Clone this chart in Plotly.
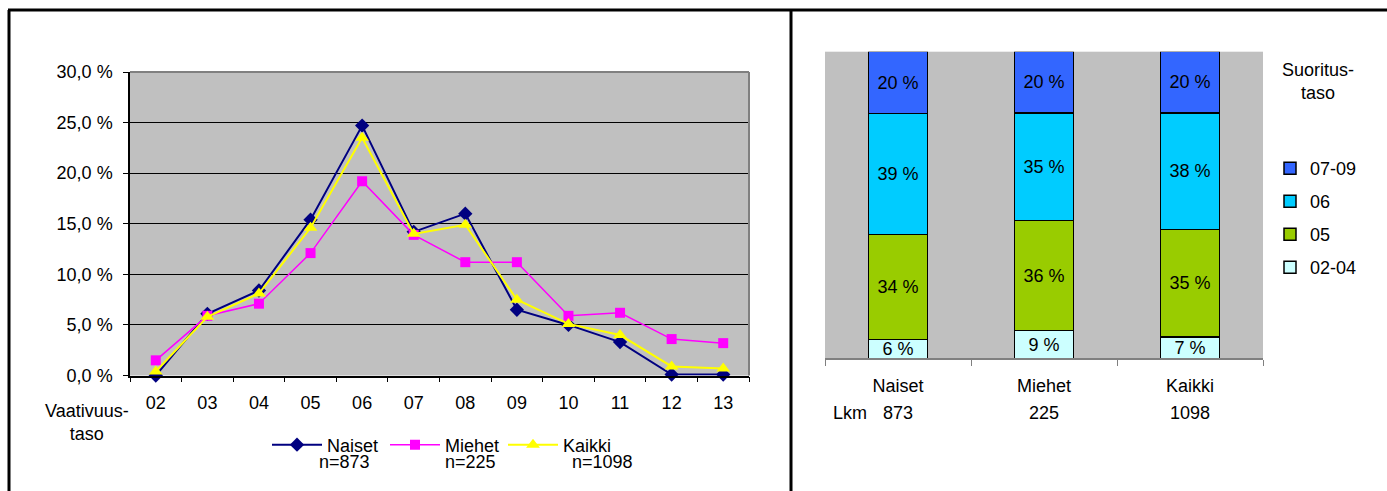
import plotly.graph_objects as go

# ---- Left chart data ----
levels = ["02", "03", "04", "05", "06", "07", "08", "09", "10", "11", "12", "13"]
naiset = [0.0, 6.1, 8.4, 15.4, 24.7, 14.2, 16.0, 6.5, 5.0, 3.3, 0.1, 0.1]
miehet = [1.5, 5.9, 7.1, 12.1, 19.2, 13.9, 11.2, 11.2, 5.9, 6.2, 3.6, 3.2]
kaikki = [0.4, 5.8, 8.1, 14.6, 23.5, 14.0, 14.9, 7.5, 5.1, 4.0, 0.9, 0.7]
line_names = ["Naiset", "Miehet", "Kaikki"]
line_counts = ["n=873", "n=225", "n=1098"]
y_ticks = [0, 5, 10, 15, 20, 25, 30]

# ---- Right chart data ----
groups = ["Naiset", "Miehet", "Kaikki"]
group_counts = ["873", "225", "1098"]
perf_levels = ["02-04", "05", "06", "07-09"]
perf_values = {
    "02-04": [6, 9, 7],
    "05": [34, 36, 35],
    "06": [39, 35, 38],
    "07-09": [20, 20, 20],
}

FONT = "Liberation Sans, Arial, sans-serif"
W, H = 1387, 491

def px(x):
    return x / W

def py(y):
    return 1 - y / H

fig = go.Figure()

line_styles = [
    dict(color="#000080", width=2, symbol="diamond", size=11),
    dict(color="#FF00FF", width=1.5, symbol="square", size=10),
    dict(color="#FFFF00", width=2, symbol="triangle-up", size=12),
]
for name, vals, st in zip(line_names, [naiset, miehet, kaikki], line_styles):
    fig.add_trace(go.Scatter(
        x=levels, y=vals, name=name, mode="lines+markers",
        line=dict(color=st["color"], width=st["width"]),
        marker=dict(symbol=st["symbol"], size=st["size"], color=st["color"]),
        xaxis="x", yaxis="y", legend="legend", cliponaxis=False,
    ))

bar_colors = {"02-04": "#CCFFFF", "05": "#99CC00", "06": "#00CCFF", "07-09": "#3366FF"}
for i, lvl in enumerate(perf_levels):
    vals = perf_values[lvl]
    fig.add_trace(go.Bar(
        x=groups, y=vals, name=lvl,
        marker=dict(color=bar_colors[lvl], line=dict(color="black", width=1.5)),
        text=[f"{v} %" for v in vals], textposition="inside",
        insidetextanchor="middle", textangle=0,
        textfont=dict(family=FONT, size=18, color="black"),
        xaxis="x2", yaxis="y2", legend="legend2", legendgroup=lvl,
        legendrank=100 - i,
    ))

y_text = [f"{v:.1f} %".replace(".", ",") for v in y_ticks]

fig.update_layout(
    width=W, height=H, autosize=False,
    margin=dict(l=0, r=0, t=0, b=0, autoexpand=False),
    paper_bgcolor="white", plot_bgcolor="#C0C0C0",
    font=dict(family=FONT, size=18, color="black"),
    barmode="stack", barnorm="percent", bargap=0.594,
    uniformtext=dict(minsize=18, mode="show"),
    showlegend=True,
    xaxis=dict(
        domain=[px(130), px(749)], type="category", range=[-0.5, 11.5],
        showgrid=False, showline=True, linecolor="black", linewidth=1.5,
        ticks="outside", tickson="boundaries", ticklen=5, tickcolor="black",
        tickwidth=1, ticklabelstandoff=10, anchor="y", automargin=False,
    ),
    yaxis=dict(
        domain=[py(375.5), py(72)], range=[0, 30],
        tickvals=y_ticks, ticktext=y_text,
        showgrid=True, gridcolor="black", gridwidth=1, zeroline=False,
        showline=True, linecolor="black", linewidth=1.5,
        ticks="outside", ticklen=5, tickcolor="black", ticklabelstandoff=7,
        anchor="x", automargin=False,
    ),
    xaxis2=dict(
        domain=[px(825), px(1263)], type="category",
        showgrid=False, showline=True, linecolor="#808080", linewidth=1.5,
        ticks="outside", tickson="boundaries", ticklen=6, tickcolor="#808080",
        ticklabelstandoff=10, anchor="y2", automargin=False,
    ),
    yaxis2=dict(
        domain=[py(358.3), py(51.7)], range=[0, 100], visible=False,
        anchor="x2", automargin=False,
    ),
    legend=dict(
        orientation="h", x=px(267), xanchor="left", y=py(445), yanchor="middle",
        itemwidth=50, entrywidth=53, entrywidthmode="pixels",
        bgcolor="rgba(0,0,0,0)", font=dict(size=18), itemclick=False,
    ),
    legend2=dict(
        orientation="v", x=px(1270), xanchor="left", y=py(150), yanchor="top",
        traceorder="grouped", tracegroupgap=6.6,
        bgcolor="rgba(0,0,0,0)", font=dict(size=18), itemclick=False,
    ),
)

# Plot frame borders (grey top/right) for left chart
fig.add_shape(type="line", xref="x domain", yref="y domain", x0=0, x1=1, y0=1, y1=1,
              line=dict(color="#808080", width=2), layer="above")
fig.add_shape(type="line", xref="x domain", yref="y domain", x0=1, x1=1, y0=0, y1=1,
              line=dict(color="#808080", width=2), layer="above")

# Outer frame lines
fig.add_shape(type="line", xref="paper", yref="paper", x0=px(8), x1=1, y0=py(10), y1=py(10),
              line=dict(color="black", width=3))
fig.add_shape(type="line", xref="paper", yref="paper", x0=px(9), x1=px(9), y0=0, y1=py(10),
              line=dict(color="black", width=3))
fig.add_shape(type="line", xref="paper", yref="paper", x0=px(791), x1=px(791), y0=0, y1=py(10),
              line=dict(color="black", width=3))

# Axis title (left)
fig.add_annotation(text="Vaativuus-<br>taso", xref="paper", yref="paper",
                   x=px(87), y=py(422), xanchor="center", yanchor="middle",
                   showarrow=False, align="center", font=dict(size=18))

# n= counts under legend
for txt, xc in zip(line_counts, [344, 470, 602]):
    fig.add_annotation(text=txt, xref="paper", yref="paper", x=px(xc), y=py(462),
                       xanchor="center", yanchor="middle", showarrow=False,
                       font=dict(size=18))

# Right chart legend title
fig.add_annotation(text="Suoritus-<br>taso", xref="paper", yref="paper",
                   x=px(1318), y=py(81), xanchor="center", yanchor="middle",
                   showarrow=False, align="center", font=dict(size=18))

# Lkm counts under the right chart categories
fig.add_annotation(text="Lkm", xref="paper", yref="paper", x=px(850), y=py(413),
                   xanchor="center", yanchor="middle", showarrow=False,
                   font=dict(size=18))
for g, c in zip(groups, group_counts):
    fig.add_annotation(text=c, xref="x2", yref="paper", x=g, y=py(413),
                       xanchor="center", yanchor="middle", showarrow=False,
                       font=dict(size=18))

fig.write_html("out.html", config={"displayModeBar": False},
               post_script="document.body.style.margin='0px';")
